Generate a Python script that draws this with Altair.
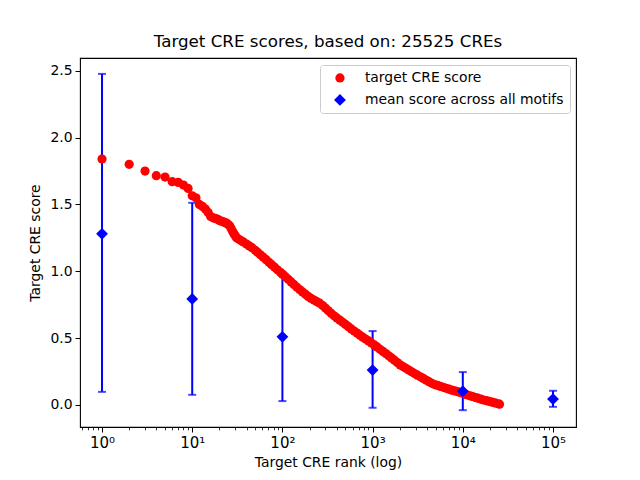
import altair as alt
import pandas as pd

# ---- data ----
ranks = [1, 2, 3, 4, 5, 6, 7, 8, 9, 10, 11, 12, 13, 14, 15, 16, 17, 18, 19, 20,
         21, 22, 23, 24, 25, 26, 27, 28, 29, 30,
         31, 33, 35, 37, 40, 43, 46, 50, 53, 57, 61, 66, 71, 76, 82, 88, 95, 100,
         108, 116, 125, 134, 144, 155, 167, 180, 193, 208, 224, 241, 259, 279, 300,
         323, 347, 374, 402, 433, 466, 501, 539, 580, 624, 672, 723, 778, 837, 901,
         970, 1044, 1123, 1209, 1301, 1400, 1507, 1622, 1745, 1878, 2021, 2175, 2341,
         2519, 2711, 2918, 3140, 3380, 3637, 3914, 4213, 4534, 4879, 5251, 5651, 6082,
         6546, 7045, 7581, 8159, 8781, 9450, 10170, 10945, 11779, 12677, 13643, 14682,
         15801, 17005, 18300, 19695, 21195, 22810, 24548, 25525]
scores = [1.84, 1.80, 1.75, 1.715, 1.705, 1.67, 1.665, 1.645, 1.62, 1.565, 1.55, 1.50,
          1.485, 1.465, 1.44, 1.41, 1.40, 1.395, 1.39, 1.38,
          1.375, 1.37, 1.365, 1.36, 1.35, 1.34, 1.32, 1.30, 1.28, 1.265,
          1.25, 1.239, 1.228, 1.218, 1.203, 1.189, 1.176, 1.157, 1.142, 1.123, 1.106,
          1.086, 1.067, 1.049, 1.030, 1.011, 0.992, 0.978,
          0.959, 0.940, 0.920, 0.901, 0.882, 0.863, 0.845, 0.828, 0.811, 0.796, 0.784,
          0.772, 0.761, 0.743, 0.724,
          0.704, 0.685, 0.666, 0.650, 0.634, 0.618, 0.602, 0.585, 0.568, 0.552, 0.537,
          0.521, 0.506, 0.492, 0.478,
          0.463, 0.448, 0.433, 0.416, 0.400, 0.384, 0.367, 0.351, 0.334, 0.316, 0.299,
          0.286, 0.273,
          0.260, 0.247, 0.234, 0.222, 0.210, 0.198, 0.185, 0.173, 0.161, 0.152, 0.145,
          0.138, 0.131,
          0.124, 0.117, 0.110, 0.104, 0.098, 0.091, 0.084, 0.076, 0.069, 0.063, 0.056,
          0.050,
          0.043, 0.036, 0.031, 0.025, 0.020, 0.014, 0.008, 0.005]

mean_ranks = [1, 10, 100, 1000, 10000, 100000]
mean_scores = [1.28, 0.793, 0.509, 0.26, 0.102, 0.043]
err_low = [0.097, 0.075, 0.028, -0.022, -0.04, -0.015]
err_high = [2.477, 1.512, 0.996, 0.552, 0.245, 0.105]

series_names = ["target CRE score", "mean score across all motifs"]

major_ticks = [1, 10, 100, 1000, 10000, 100000]
major_labels = ["10⁰", "10¹", "10²", "10³", "10⁴", "10⁵"]
minor_ticks = [0.6, 0.7, 0.8, 0.9,
               2, 3, 4, 5, 6, 7, 8, 9,
               20, 30, 40, 50, 60, 70, 80, 90,
               200, 300, 400, 500, 600, 700, 800, 900,
               2000, 3000, 4000, 5000, 6000, 7000, 8000, 9000,
               20000, 30000, 40000, 50000, 60000, 70000, 80000, 90000]
y_ticks = [0.0, 0.5, 1.0, 1.5, 2.0, 2.5]

# ---- tables ----
red = pd.DataFrame({"rank": ranks, "score": scores, "series": series_names[0]})
blue = pd.DataFrame({"rank": mean_ranks, "score": mean_scores, "lo": err_low,
                     "hi": err_high, "series": series_names[1]})

FONT = "DejaVu Sans"
FS = 13.9

label_expr = " : ".join(
    [f"datum.value == {v} ? '{l}'" for v, l in zip(major_ticks, major_labels)]
) + " : ''"

xscale = alt.Scale(type="log", domain=[0.57, 179900], nice=False)
yscale = alt.Scale(domain=[-0.166, 2.596], nice=False, zero=False)

x_major = alt.Axis(values=major_ticks, labelExpr=label_expr, orient="bottom",
                   tickSize=5, tickColor="black", tickWidth=1, domain=False, grid=False,
                   labelFont=FONT, labelFontSize=15, labelColor="black", labelPadding=3,
                   title="Target CRE rank (log)", titleFont=FONT, titleFontSize=FS,
                   titleFontWeight="normal", titleColor="black", titlePadding=5)
x_minor = alt.Axis(values=minor_ticks, orient="bottom", labels=False, tickSize=2.8,
                   tickColor="black", tickWidth=0.8, domain=False, grid=False, title=None)
y_axis = alt.Axis(values=y_ticks, format=".1f", tickSize=5, tickColor="black",
                  domain=False, grid=False, labelFont=FONT, labelFontSize=FS,
                  labelColor="black", labelPadding=3, title="Target CRE score",
                  titleFont=FONT, titleFontSize=FS, titleFontWeight="normal",
                  titleColor="black", titlePadding=7)

legend_common = dict(title=None, orient="none", legendX=240, legendY=7)
color_enc = alt.Color("series:N", scale=alt.Scale(domain=series_names,
                                                   range=["#ff0000", "#0000ff"]),
                      legend=alt.Legend(labelFont=FONT, labelFontSize=FS,
                                        labelColor="black", labelLimit=400, padding=6,
                                        symbolOffset=7, labelOffset=18, rowPadding=7,
                                        strokeColor="#cccccc", fillColor="white",
                                        cornerRadius=3, symbolStrokeWidth=0,
                                        **legend_common))
shape_enc = alt.Shape("series:N", scale=alt.Scale(domain=series_names,
                                                   range=["circle", "diamond"]),
                      legend=alt.Legend(**legend_common))
size_enc = alt.Size("series:N", scale=alt.Scale(domain=series_names, range=[85, 140]),
                    legend=alt.Legend(**legend_common))

base_blue = alt.Chart(blue)

bars = base_blue.mark_rule(color="#0000ff", strokeWidth=2).encode(
    x=alt.X("rank:Q", scale=xscale, axis=x_minor),
    y=alt.Y("lo:Q", scale=yscale, axis=y_axis),
    y2="hi:Q",
)
caps_lo = base_blue.mark_tick(color="#0000ff", orient="horizontal", size=8,
                              thickness=2).encode(
    x=alt.X("rank:Q", scale=xscale, axis=None),
    y=alt.Y("lo:Q", scale=yscale, axis=y_axis),
)
caps_hi = base_blue.mark_tick(color="#0000ff", orient="horizontal", size=8,
                              thickness=2).encode(
    x=alt.X("rank:Q", scale=xscale, axis=None),
    y=alt.Y("hi:Q", scale=yscale, axis=y_axis),
)
red_pts = alt.Chart(red).mark_point(filled=True, opacity=1).encode(
    x=alt.X("rank:Q", scale=xscale, axis=x_major),
    y=alt.Y("score:Q", scale=yscale, axis=y_axis),
    color=color_enc, shape=shape_enc, size=size_enc,
)
blue_pts = base_blue.mark_point(filled=True, opacity=1).encode(
    x=alt.X("rank:Q", scale=xscale, axis=None),
    y=alt.Y("score:Q", scale=yscale, axis=y_axis),
    color=color_enc, shape=shape_enc, size=size_enc,
)

chart = alt.layer(bars, caps_lo, caps_hi, red_pts, blue_pts).resolve_axis(
    x="independent"
).properties(
    width=496, height=369,
    padding={"left": 72, "top": 50, "right": 56, "bottom": 45},
    autosize="none",
    background="white",
    title=alt.TitleParams("Target CRE scores, based on: 25525 CREs", font=FONT,
                          fontSize=16.7, fontWeight="normal", color="black",
                          anchor="middle", frame="group", offset=7),
).configure_view(stroke="black", strokeWidth=1.1)

chart.save("out.html", embed_options={"renderer": "svg", "actions": False})
